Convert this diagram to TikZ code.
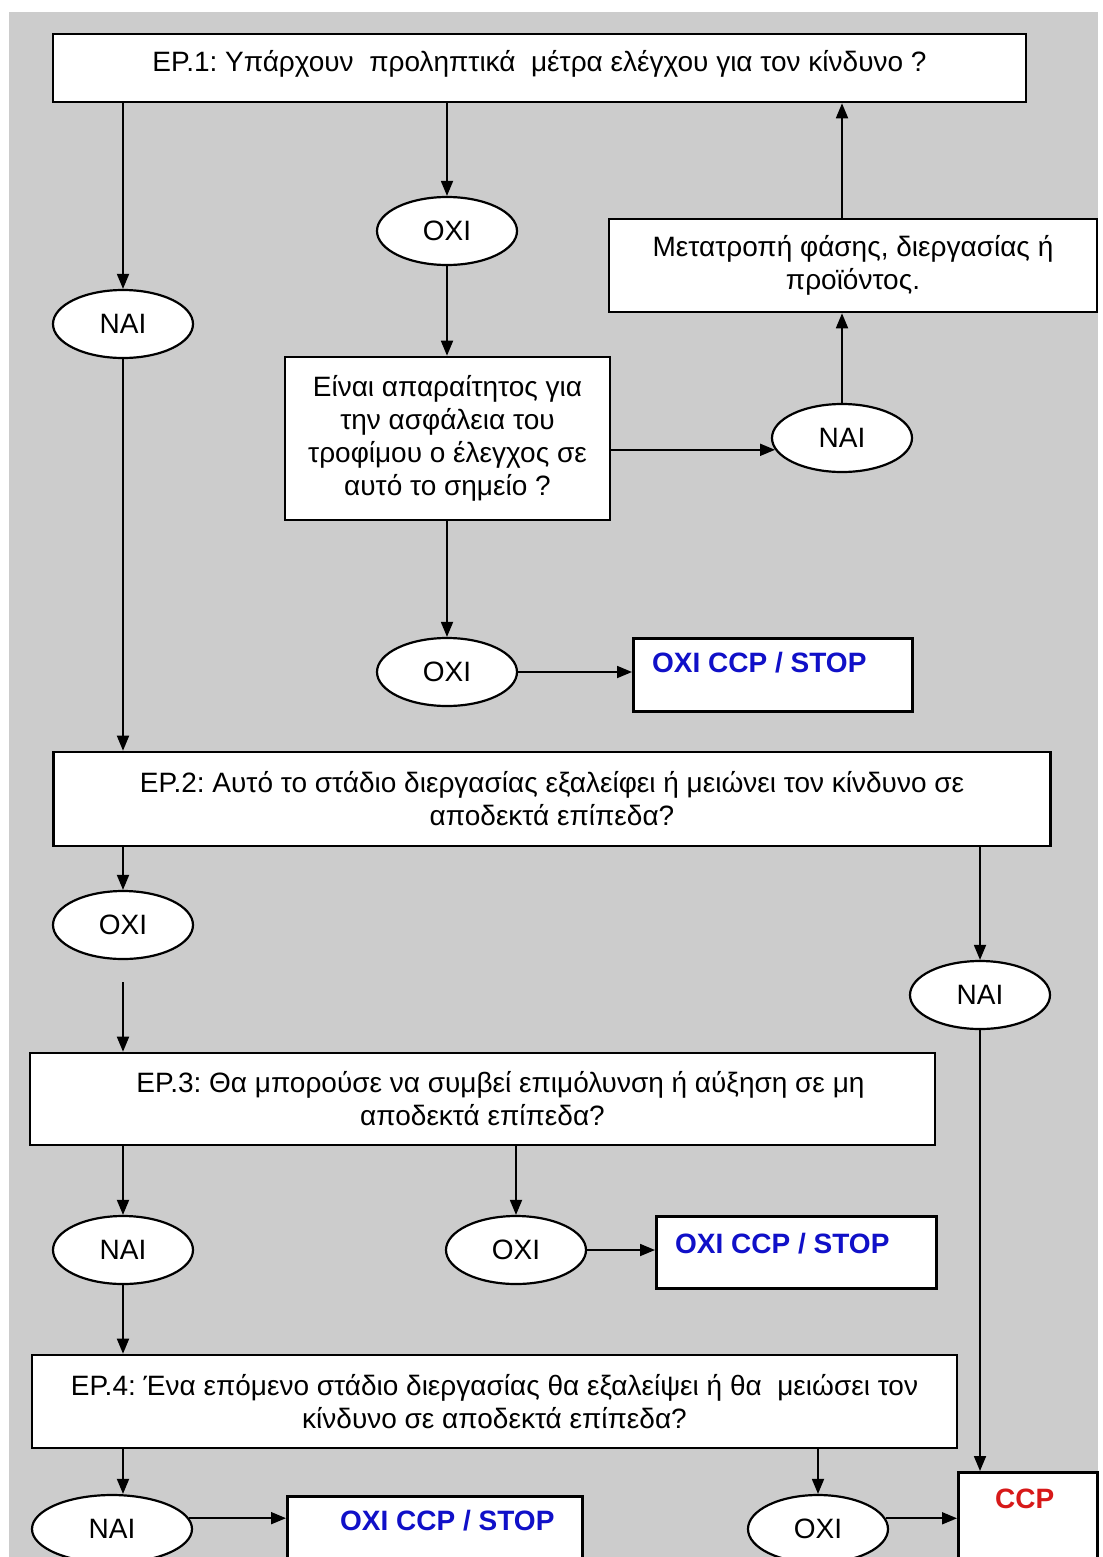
\documentclass[tikz,border=0pt]{standalone}
\usepackage{fontspec}
\setmainfont{Liberation Sans}
\usetikzlibrary{arrows.meta,shapes.geometric}
\definecolor{bggray}{RGB}{204,204,204}
\definecolor{stopblue}{RGB}{16,16,200}
\definecolor{ccpred}{RGB}{215,25,25}
\begin{document}
\begin{tikzpicture}[x=1bp,y=-1bp,
  box/.style={draw=black,line width=2.6bp,fill=white,inner sep=0pt,
    font=\frenchspacing\fontsize{28bp}{33bp}\selectfont,align=center},
  ans/.style={ellipse,draw=black,line width=2.2bp,fill=white,
    minimum width=140bp,minimum height=68bp,inner sep=0pt,
    font=\fontsize{28bp}{30bp}\selectfont},
  endbox/.style={draw=black,line width=2.6bp,fill=white,inner sep=0pt,anchor=north west},
  stoptext/.style={font=\fontsize{28bp}{30bp}\selectfont\bfseries,text=stopblue,inner sep=0pt,anchor=base west},
  ccptext/.style={font=\fontsize{28bp}{30bp}\selectfont\bfseries,text=ccpred,inner sep=0pt,anchor=base west},
  arr/.style={line width=1.8bp,-{Triangle[length=15bp,width=12bp]}}]

\useasboundingbox (0,0) rectangle (1102,1557);
\clip (0,0) rectangle (1102,1557);
\fill[white] (0,0) rectangle (1102,1557);
\fill[bggray] (9,12) rectangle (1098,1557);

% question boxes
\node[box,minimum width=973bp,text height=38bp,text depth=30bp] (ep1) at (539.5,68)
  {ΕΡ.1: Υπάρχουν\ \ προληπτικά\ \ μέτρα ελέγχου για τον κίνδυνο ?};
\node[box,minimum width=488bp,minimum height=93bp] (conv) at (853,265.5)
  {Μετατροπή φάσης, διεργασίας ή\\ προϊόντος.};
\node[box,minimum width=325bp,minimum height=163bp] (dec) at (447.5,438.5)
  {Είναι απαραίτητος για\\ την ασφάλεια του\\ τροφίμου ο έλεγχος σε\\ αυτό το σημείο ?};
\node[box,minimum width=997bp,minimum height=94bp] (ep2) at (552,799)
  {ΕΡ.2: Αυτό το στάδιο διεργασίας εξαλείφει ή μειώνει τον κίνδυνο σε\\ αποδεκτά επίπεδα?};
\node[box,minimum width=905bp,minimum height=92bp] (ep3) at (482.5,1099)
  {\hspace*{36bp}ΕΡ.3: Θα μπορούσε να συμβεί επιμόλυνση ή αύξηση σε μη\\ αποδεκτά επίπεδα?};
\node[box,minimum width=925bp,minimum height=93bp] (ep4) at (494.5,1401.5)
  {ΕΡ.4: Ένα επόμενο στάδιο διεργασίας θα εξαλείψει ή θα\ \ μειώσει τον\\ κίνδυνο σε αποδεκτά επίπεδα?};

% answer ellipses
\node[ans] (nai1) at (123,324) {ΝΑΙ};
\node[ans] (oxi1) at (447,231) {ΟΧΙ};
\node[ans] (nai2) at (842,438) {ΝΑΙ};
\node[ans] (oxi2) at (447,672) {ΟΧΙ};
\node[ans] (oxi3) at (123,925) {ΟΧΙ};
\node[ans] (nai3) at (980,995) {ΝΑΙ};
\node[ans] (nai4) at (123,1250) {ΝΑΙ};
\node[ans] (oxi4) at (516,1250) {ΟΧΙ};
\node[ans,minimum width=160bp] (nai5) at (112,1529) {ΝΑΙ};
\node[ans] (oxi5) at (818,1529) {ΟΧΙ};

% end boxes
\node[endbox,minimum width=279bp,minimum height=73bp] (stop1) at (632,637) {};
\node[stoptext] (stop1t) at (652,672) {ΟΧΙ CCP / STOP};
\node[endbox,minimum width=280bp,minimum height=72bp] (stop2) at (655,1215) {};
\node[stoptext] (stop2t) at (675,1253) {ΟΧΙ CCP / STOP};
\node[endbox,minimum width=295bp,minimum height=90bp] (stop3) at (286,1495) {};
\node[stoptext] (stop3t) at (340,1530) {ΟΧΙ CCP / STOP};
\node[endbox,minimum width=139bp,minimum height=110bp] (ccp) at (957,1471) {};
\node[ccptext] (ccpt) at (995,1508) {CCP};

\coordinate (free) at (123,982);

% connectors
\draw[arr] (ep1.south -| nai1) -- (nai1);
\draw[arr] (ep1.south -| oxi1) -- (oxi1);
\draw[arr] (oxi1) -- (dec.north -| oxi1);
\draw[arr] (dec.east |- nai2.190) -- (nai2.190);
\draw[arr] (nai2) -- (conv.south -| nai2);
\draw[arr] (conv.north -| nai2) -- (ep1.south -| nai2);
\draw[arr] (dec.south -| oxi2) -- (oxi2);
\draw[arr] (oxi2) -- (stop1.west |- oxi2);
\draw[arr] (nai1) -- (ep2.north -| nai1);
\draw[arr] (ep2.south -| oxi3) -- (oxi3);
\draw[arr] (free) -- (ep3.north -| free);
\draw[arr] (ep2.south -| nai3) -- (nai3);
\draw[arr] (nai3) -- (ccp.north -| nai3);
\draw[arr] (ep3.south -| nai4) -- (nai4);
\draw[arr] (ep3.south -| oxi4) -- (oxi4);
\draw[arr] (oxi4) -- (stop2.west |- oxi4);
\draw[arr] (nai4) -- (ep4.north -| nai4);
\draw[arr] (ep4.south -| nai4) -- (nai4 |- nai5.north);
\draw[arr] (nai5.8) -- (stop3.west |- nai5.8);
\draw[arr] (ep4.south -| oxi5) -- (oxi5);
\draw[arr] (oxi5.9) -- (ccp.west |- oxi5.9);
\end{tikzpicture}
\end{document}
